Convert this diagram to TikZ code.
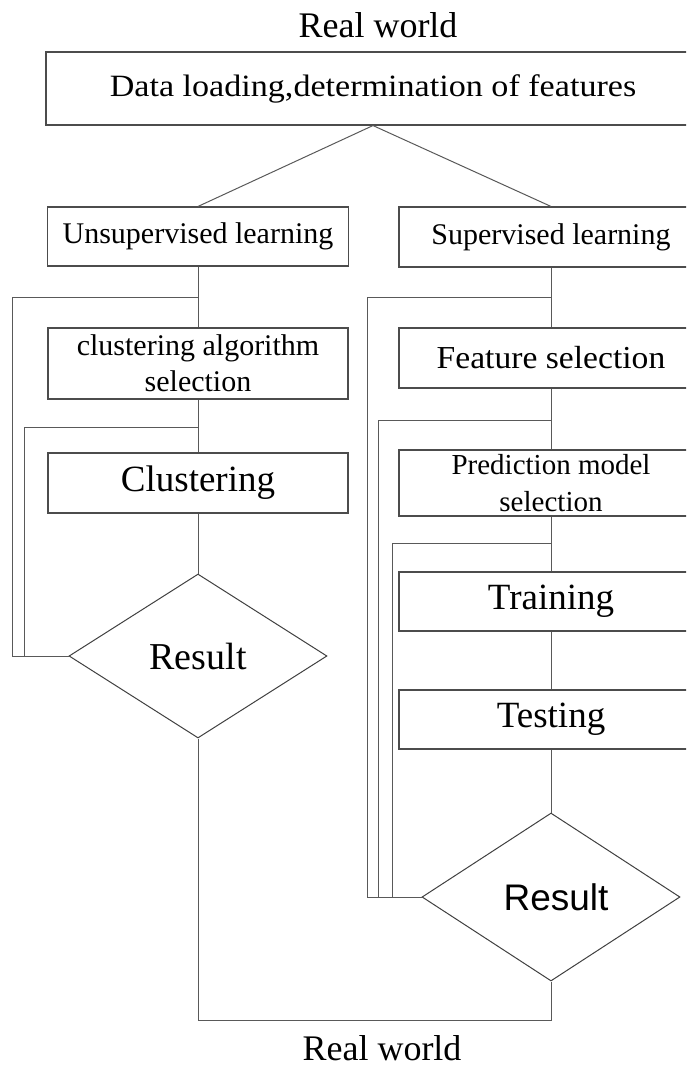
\documentclass[tikz,border=0pt]{standalone}
\usepackage{fontspec}
\setmainfont{Liberation Serif}
\newfontfamily\arialfont{Liberation Sans}
\usetikzlibrary{shapes.geometric}
\tikzset{
  box/.style={draw=black!70, line width=1.1pt, rectangle, inner sep=0pt, align=center},
  conn/.style={draw=black!65, line width=1pt},
  dia/.style={draw=black!75, line width=1pt, diamond, inner sep=0pt},
  txt/.style={inner sep=0pt, anchor=base},
}
\begin{document}
\begin{tikzpicture}[x=1pt,y=-1pt]
\useasboundingbox (0,0) rectangle (686,1066);
\clip (0,0) rectangle (686,1066);
% titles
\node[txt, font=\fontsize{36}{40}\selectfont] (rwtop) at (378,37) {Real world};
\node[txt, font=\fontsize{36}{40}\selectfont] (rwbot) at (382,1060) {Real world};
% top box
\node[box, minimum width=654, minimum height=73, font=\fontsize{31}{37}\selectfont] (data) at (373,88.5) {\scalebox{1.1}[1]{Data loading,determination of features}};
% left column
\node[box, minimum width=301, minimum height=59, font=\fontsize{30}{36}\selectfont] (unsup) at (198,236.5) {Unsupervised learning};
\node[box, minimum width=300, minimum height=71, font=\fontsize{30}{36}\selectfont] (calg) at (198,363.5) {clustering algorithm\\selection};
\node[box, minimum width=300, minimum height=60, font=\fontsize{37}{40}\selectfont] (clus) at (198,483) {Clustering};
\node[dia, minimum width=258, minimum height=164, font=\fontsize{38}{40}\selectfont] (resl) at (198,656) {Result};
% right column
\node[box, minimum width=304, minimum height=60, font=\fontsize{30}{36}\selectfont] (sup) at (551,237) {Supervised learning};
\node[box, minimum width=304, minimum height=60, font=\fontsize{32}{36}\selectfont] (feat) at (551,358) {\scalebox{1.05}[1]{Feature selection}};
\node[box, minimum width=304, minimum height=66, font=\fontsize{29}{37}\selectfont] (pred) at (551,483) {Prediction model\\selection};
\node[box, minimum width=304, minimum height=59, font=\fontsize{37}{40}\selectfont] (train) at (551,601.5) {Training};
\node[box, minimum width=304, minimum height=59, font=\fontsize{37}{40}\selectfont] (test) at (551,719.5) {Testing};
\node[dia, minimum width=258, minimum height=168, font=\arialfont\fontsize{37}{40}\selectfont] (resr) at (551,897) {\hspace*{10pt}Result};
% main connectors
\draw[conn] (data.south) -- (unsup.north);
\draw[conn] (data.south) -- (sup.north);
\draw[conn] (unsup.south) -- (calg.north);
\draw[conn] (calg.south) -- (clus.north);
\draw[conn] (clus.south) -- (resl.north);
\draw[conn] (sup.south) -- (feat.north);
\draw[conn] (feat.south) -- (pred.north);
\draw[conn] (pred.south) -- (train.north);
\draw[conn] (train.south) -- (test.north);
\draw[conn] (test.south) -- (resr.north);
\draw[conn] (resl.south) -- ++(0,282) -| (resr.south);
% feedback loops left
\coordinate (l1) at (198,297);
\coordinate (l2) at (198,427);
\draw[conn] (l1) -- ++(-186,0) |- (resl.west);
\draw[conn] (l2) -- ++(-174,0) |- (resl.west);
% feedback loops right
\coordinate (r1) at (551,297);
\coordinate (r2) at (551,420);
\coordinate (r3) at (551,543);
\draw[conn] (r1) -- ++(-184,0) |- (resr.west);
\draw[conn] (r2) -- ++(-173,0) |- (resr.west);
\draw[conn] (r3) -- ++(-159,0) |- (resr.west);
\end{tikzpicture}
\end{document}
